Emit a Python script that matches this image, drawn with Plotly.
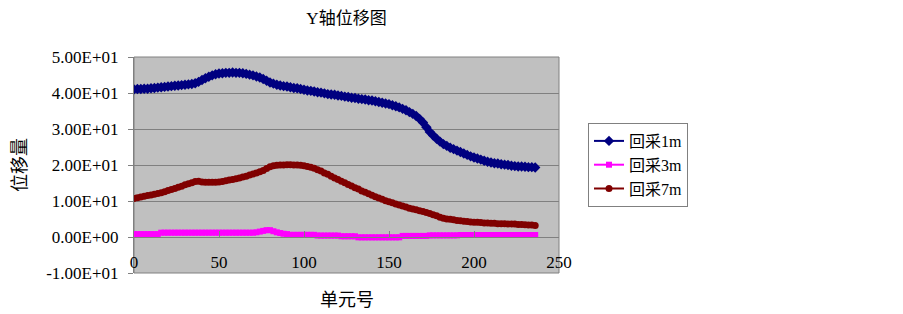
import plotly.graph_objects as go

# ---------------- data ----------------
units = list(range(0, 237, 2))

disp_1m = [
    41.0, 41.1, 41.1, 41.2, 41.2, 41.3, 41.4, 41.5, 41.6, 41.7,
    41.8, 41.9, 42.0, 42.1, 42.2, 42.3, 42.4, 42.5, 42.7, 43.1,
    43.6, 44.1, 44.5, 44.9, 45.2, 45.4, 45.5, 45.6, 45.6, 45.7,
    45.6, 45.6, 45.5, 45.3, 45.1, 44.9, 44.6, 44.3, 43.9, 43.4,
    42.9, 42.6, 42.3, 42.1, 41.9, 41.8, 41.6, 41.4, 41.3, 41.1,
    40.9, 40.7, 40.6, 40.4, 40.2, 40.1, 39.9, 39.7, 39.6, 39.5,
    39.3, 39.2, 39.0, 38.9, 38.7, 38.6, 38.4, 38.3, 38.2, 38.0,
    37.9, 37.7, 37.5, 37.3, 37.1, 36.9, 36.6, 36.3, 36.0, 35.6,
    35.2, 34.7, 34.2, 33.6, 32.8, 31.8, 30.5, 29.2, 28.2, 27.3,
    26.5, 25.8, 25.3, 24.8, 24.4, 24.0, 23.6, 23.2, 22.8, 22.4,
    22.1, 21.8, 21.5, 21.2, 20.9, 20.7, 20.5, 20.4, 20.2, 20.1,
    20.0, 19.8, 19.7, 19.6, 19.6, 19.5, 19.4, 19.4, 19.3,
]

disp_3m = [
    0.8, 0.8, 0.8, 0.8, 0.8, 0.8, 0.8, 0.8, 1.2, 1.2,
    1.2, 1.2, 1.2, 1.2, 1.2, 1.2, 1.2, 1.2, 1.2, 1.2,
    1.2, 1.2, 1.2, 1.2, 1.2, 1.2, 1.2, 1.2, 1.2, 1.2,
    1.2, 1.2, 1.2, 1.2, 1.2, 1.2, 1.3, 1.5, 1.7, 1.9,
    1.9, 1.6, 1.3, 1.1, 0.9, 0.8, 0.6, 0.6, 0.6, 0.6,
    0.6, 0.6, 0.6, 0.6, 0.4, 0.4, 0.4, 0.4, 0.4, 0.4,
    0.4, 0.2, 0.2, 0.2, 0.2, 0.2, -0.1, -0.1, -0.1, -0.1,
    -0.1, -0.1, -0.1, -0.1, -0.1, -0.1, -0.1, -0.1, -0.1, 0.3,
    0.3, 0.3, 0.3, 0.3, 0.3, 0.3, 0.3, 0.45, 0.45, 0.45,
    0.45, 0.45, 0.45, 0.45, 0.45, 0.45, 0.55, 0.55, 0.55, 0.55,
    0.55, 0.55, 0.55, 0.55, 0.55, 0.55, 0.55, 0.55, 0.55, 0.55,
    0.55, 0.55, 0.55, 0.55, 0.55, 0.55, 0.55, 0.55, 0.55,
]

disp_7m = [
    10.7, 10.9, 11.1, 11.3, 11.5, 11.7, 11.9, 12.1, 12.3, 12.6,
    12.9, 13.2, 13.5, 13.8, 14.1, 14.5, 14.8, 15.1, 15.4, 15.5,
    15.3, 15.2, 15.2, 15.2, 15.2, 15.3, 15.4, 15.6, 15.8, 16.0,
    16.2, 16.4, 16.7, 16.9, 17.2, 17.5, 17.8, 18.1, 18.5, 19.0,
    19.5, 19.8, 19.9, 20.0, 20.0, 20.1, 20.1, 20.0, 20.0, 19.9,
    19.8, 19.6, 19.4, 19.1, 18.7, 18.3, 17.8, 17.4, 16.9, 16.4,
    16.0, 15.5, 15.1, 14.6, 14.2, 13.7, 13.3, 12.8, 12.4, 12.0,
    11.6, 11.2, 10.8, 10.5, 10.1, 9.8, 9.5, 9.2, 8.9, 8.6,
    8.3, 8.0, 7.8, 7.6, 7.3, 7.1, 6.8, 6.5, 6.2, 5.9,
    5.5, 5.2, 5.0, 4.9, 4.8, 4.6, 4.5, 4.4, 4.3, 4.2,
    4.1, 4.1, 4.0, 3.9, 3.9, 3.8, 3.8, 3.7, 3.7, 3.7,
    3.6, 3.6, 3.6, 3.5, 3.5, 3.4, 3.3, 3.3, 3.2,
]

series_names = ["回采1m", "回采3m", "回采7m"]

y_tickvals = [-10, 0, 10, 20, 30, 40, 50]
y_ticktext = ["-1.00E+01", "0.00E+00", "1.00E+01", "2.00E+01",
              "3.00E+01", "4.00E+01", "5.00E+01"]
x_tickvals = [0, 50, 100, 150, 200, 250]
x_ticktext = ["0", "50", "100", "150", "200", "250"]

title_text = "Y轴位移图"
x_title = "单元号"
y_title = "位移量"

# ---------------- figure ----------------
# The page body has an 8px default margin, so the figure is 8px smaller
# and margins are reduced by 8px on the left/top.
FONT = "Liberation Serif, Noto Sans CJK SC, serif"
GRID = "#808080"
W, H = 895, 306

fig = go.Figure()
fig.add_trace(go.Scatter(
    x=units, y=disp_1m, name=series_names[0], mode="lines+markers",
    line=dict(color="#000080", width=2),
    marker=dict(symbol="diamond", size=8, color="#000080"),
))
fig.add_trace(go.Scatter(
    x=units, y=disp_3m, name=series_names[1], mode="lines+markers",
    line=dict(color="#FF00FF", width=2),
    marker=dict(symbol="square", size=6, color="#FF00FF"),
))
fig.add_trace(go.Scatter(
    x=units, y=disp_7m, name=series_names[2], mode="lines+markers",
    line=dict(color="#800000", width=2),
    marker=dict(symbol="circle", size=7, color="#800000"),
))

fig.update_layout(
    width=W, height=H,
    margin=dict(l=126, r=344, t=49, b=41, pad=0),
    paper_bgcolor="white",
    plot_bgcolor="#C0C0C0",
    font=dict(family=FONT, size=17, color="black"),
    title=dict(text=title_text, x=0.5, xref="paper", xanchor="center",
               y=1 - 10 / H, yref="container", yanchor="middle",
               font=dict(family=FONT, size=17, color="black")),
    showlegend=True,
    legend=dict(x=(588 - 134) / 425, y=(273 - 123) / 216,
                xanchor="left", yanchor="top",
                bgcolor="white", bordercolor="#808080", borderwidth=1,
                font=dict(family=FONT, size=16, color="black"),
                tracegroupgap=0),
    xaxis=dict(range=[0, 250], tickvals=x_tickvals, ticktext=x_ticktext,
               anchor="free", position=1 / 6,
               showline=True, linecolor=GRID, linewidth=1,
               ticks="inside", ticklen=6, tickcolor=GRID,
               ticklabelstandoff=10,
               showgrid=False, zeroline=False,
               tickfont=dict(family=FONT, size=17)),
    yaxis=dict(range=[-10, 50], tickvals=y_tickvals, ticktext=y_ticktext,
               domain=[0, 1],
               showline=True, linecolor=GRID, linewidth=1,
               ticks="outside", ticklen=5, tickcolor=GRID,
               ticklabelstandoff=6,
               showgrid=True, gridcolor=GRID, gridwidth=1,
               zeroline=False,
               tickfont=dict(family=FONT, size=17)),
    shapes=[dict(type="rect", xref="paper", yref="paper",
                 x0=0, x1=1, y0=0, y1=1,
                 line=dict(color=GRID, width=1), layer="below")],
    annotations=[
        dict(text=x_title, xref="paper", yref="paper",
             x=0.5, y=-(300 - 273) / 216, xanchor="center", yanchor="middle",
             showarrow=False, font=dict(family=FONT, size=18)),
        dict(text=y_title, xref="paper", yref="paper",
             x=-(134 - 20) / 425, y=0.5, xanchor="center", yanchor="middle",
             textangle=-90, showarrow=False, font=dict(family=FONT, size=18)),
    ],
)

fig.write_html("out.html")
